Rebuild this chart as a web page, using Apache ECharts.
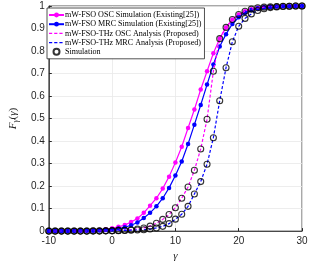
<!DOCTYPE html>
<html><head><meta charset="utf-8">
<script src="https://cdn.jsdelivr.net/npm/echarts@6/dist/echarts.min.js"></script>
<style>html,body{margin:0;padding:0;background:#fff}#c{width:334px;height:267px}</style>
</head><body><div id="c"></div>
<script>
const gammaValues = [-10,-9,-8,-7,-6,-5,-4,-3,-2,-1,0,1,2,3,4,5,6,7,8,9,10,11,12,13,14,15,16,17,18,19,20,21,22,23,24,25,26,27,28,29,30];
const oscSim = [0,0,0,0,0.001,0.001,0.002,0.003,0.005,0.008,0.013,0.019,0.027,0.040,0.056,0.081,0.113,0.146,0.189,0.242,0.305,0.375,0.458,0.540,0.629,0.710,0.790,0.856,0.905,0.940,0.962,0.977,0.986,0.992,0.995,0.997,0.998,0.999,0.999,1,1];
const mrcSim = [0,0,0,0,0,0.001,0.001,0.002,0.003,0.005,0.007,0.011,0.017,0.026,0.038,0.058,0.081,0.110,0.146,0.192,0.247,0.309,0.387,0.473,0.560,0.651,0.740,0.820,0.875,0.920,0.950,0.970,0.982,0.990,0.994,0.996,0.998,0.999,0.999,1,1];
const oscThz = [0,0,0,0,0,0,0,0.001,0.001,0.001,0.002,0.003,0.004,0.006,0.009,0.014,0.022,0.035,0.052,0.074,0.104,0.146,0.196,0.270,0.365,0.497,0.710,0.855,0.905,0.940,0.962,0.977,0.986,0.992,0.995,0.997,0.998,0.999,0.999,1,1];
const mrcThz = [0,0,0,0,0,0,0,0,0,0.001,0.001,0.002,0.003,0.004,0.005,0.006,0.009,0.014,0.021,0.033,0.053,0.075,0.110,0.165,0.220,0.297,0.415,0.579,0.726,0.841,0.910,0.945,0.965,0.980,0.988,0.993,0.996,0.998,0.999,1,1];
const xTicks = [-10,0,10,20,30];
const yTicks = [0,0.1,0.2,0.3,0.4,0.5,0.6,0.7,0.8,0.9,1];
const legendNames = ['mW-FSO OSC Simulation (Existing[25])','mW-FSO MRC Simulation (Existing[25])','mW-FSO-THz OSC Analysis (Proposed)','mW-FSO-THz MRC Analysis (Proposed)','Simulation'];

const pair = a => a.map((v,i)=>[gammaValues[i], v]);
const axisTxt = '#262626';
const dashIcon = 'path://M0,0h0.01v0.01h-0.01z M15,6h0.01v0.01h-0.01z M0,2.4h3.2v1.2h-3.2z M5.2,2.4h3.2v1.2h-3.2z M10.4,2.4h3.2v1.2h-3.2z';
const chart = echarts.init(document.getElementById('c'), null, {renderer:'canvas'});
chart.setOption({
  animation:false,
  grid:{left:43,right:32,top:6,bottom:30,show:true,borderColor:'#262626',borderWidth:0.8,backgroundColor:'#fff'},
  xAxis:{type:'value',min:-10,max:30,interval:10,
    name:'γ',nameLocation:'middle',nameGap:17,
    nameTextStyle:{fontFamily:'Liberation Serif',fontStyle:'italic',fontSize:11,color:axisTxt},
    axisLine:{onZero:false,lineStyle:{color:'#262626',width:0.8}},
    axisTick:{inside:true,length:3,lineStyle:{color:'#262626'}},
    axisLabel:{fontFamily:'Liberation Sans',fontSize:10,color:axisTxt,margin:5,
      formatter:v=>xTicks.includes(v)?String(v):''},
    splitLine:{show:true,lineStyle:{color:'#e8e8e8',width:0.8}}},
  yAxis:{type:'value',min:0,max:1,interval:0.1,
    name:'{i|F}{s|γ}{n|(}{j|γ}{n|)}',nameLocation:'middle',nameGap:26,nameRotate:90,
    nameTextStyle:{rich:{
      i:{fontFamily:'Liberation Serif',fontStyle:'italic',fontSize:11,color:axisTxt},
      j:{fontFamily:'Liberation Serif',fontStyle:'italic',fontSize:11,color:axisTxt},
      n:{fontFamily:'Liberation Serif',fontSize:11,color:axisTxt},
      s:{fontFamily:'Liberation Serif',fontStyle:'italic',fontSize:8,color:axisTxt,padding:[5,0,0,0]}}},
    axisLine:{onZero:false,lineStyle:{color:'#262626',width:0.8}},
    axisTick:{inside:true,length:3,lineStyle:{color:'#262626'}},
    axisLabel:{fontFamily:'Liberation Sans',fontSize:10,color:axisTxt,margin:4,
      formatter:v=>{const t=yTicks.find(y=>Math.abs(y-v)<1e-9);return t===undefined?'':(t===0?'0':t===1?'1':t.toFixed(1));}},
    splitLine:{show:true,lineStyle:{color:'#e8e8e8',width:0.8}}},
  legend:{orient:'vertical',left:47,top:8,itemWidth:15,itemHeight:6,itemGap:1.2,
    backgroundColor:'#fff',borderColor:'#262626',borderWidth:0.8,padding:[3,3,3,1],
    data:[
      {name:legendNames[0]},
      {name:legendNames[1]},
      {name:legendNames[2],icon:dashIcon,itemStyle:{color:'#ff00ff',borderWidth:0}},
      {name:legendNames[3],icon:dashIcon,itemStyle:{color:'#0000ff',borderWidth:0}},
      {name:legendNames[4]}
    ],
    textStyle:{fontFamily:'Liberation Serif',fontSize:8.1,lineHeight:8,color:'#000',padding:[0,0,0,-4]}},
  series:[
    {name:legendNames[0],type:'line',data:pair(oscSim),symbol:'circle',symbolSize:4.5,
      lineStyle:{color:'#ff00ff',width:1.2},itemStyle:{color:'#ff00ff'},z:2},
    {name:legendNames[1],type:'line',data:pair(mrcSim),symbol:'circle',symbolSize:4.5,
      lineStyle:{color:'#0000ff',width:1.2},itemStyle:{color:'#0000ff'},z:3},
    {name:legendNames[2],type:'line',data:pair(oscThz),symbol:'none',
      lineStyle:{color:'#ff00ff',width:1.2,type:[3,2]},itemStyle:{color:'#ff00ff'},z:4},
    {name:legendNames[3],type:'line',data:pair(mrcThz),symbol:'none',
      lineStyle:{color:'#0000ff',width:1.2,type:[3,2]},itemStyle:{color:'#0000ff'},z:5},
    {name:legendNames[4],type:'scatter',data:pair(oscThz),symbol:'circle',symbolSize:6,
      itemStyle:{color:'rgba(0,0,0,0)',borderColor:'#000',borderWidth:1.1},z:6},
    {name:legendNames[4],type:'scatter',data:pair(mrcThz),symbol:'circle',symbolSize:6,
      itemStyle:{color:'rgba(0,0,0,0)',borderColor:'#000',borderWidth:1.1},z:6}
  ]
});
</script></body></html>
